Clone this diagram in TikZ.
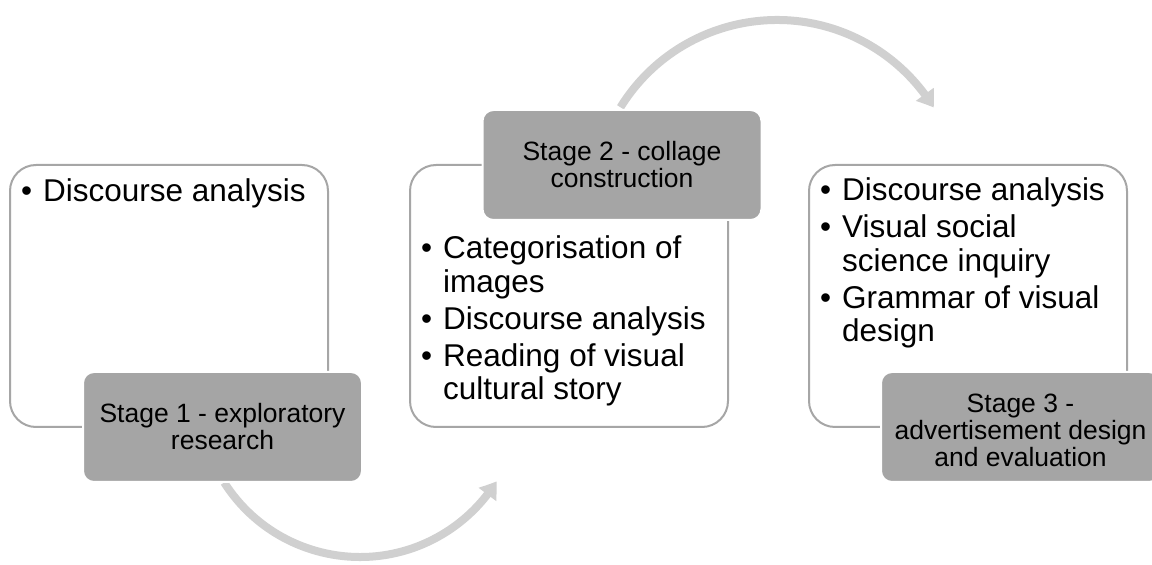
\documentclass[tikz,border=0pt]{standalone}
\usepackage{fontspec}
\setmainfont{Liberation Sans}
\usetikzlibrary{arrows.meta,bending}
\definecolor{boxline}{HTML}{A6A6A6}
\definecolor{stagefill}{HTML}{A5A5A5}
\definecolor{arrowgray}{HTML}{D0D0D0}
\newcommand{\bul}{\makebox[22pt][l]{\textbullet}}
\begin{document}
\begin{tikzpicture}[x=1pt,y=1pt,
  panel/.style={draw=boxline, line width=2pt, fill=white, rounded corners=26pt,
    minimum width=318pt, minimum height=262pt, inner sep=0pt},
  stagebox/.style={draw=white, line width=2pt, fill=stagefill, rounded corners=11pt,
    minimum width=279pt, minimum height=110pt, inner sep=0pt, align=center,
    font=\fontsize{26.5}{27}\selectfont},
  bullets/.style={anchor=base west, inner sep=0pt, font=\fontsize{31.5}{33.5}\selectfont},
  flow/.style={draw=arrowgray, line width=8pt, -{Triangle[width=21pt,length=16pt,bend]}}
]
\useasboundingbox (0,0) rectangle (1152,565);
\clip (0,0) rectangle (1152,565);
% arrows
\coordinate (arcAc) at (360,169);
\coordinate (arcAs) at ([shift={(212.5:161)}]arcAc);
\coordinate (arcBc) at (777,361);
\coordinate (arcBs) at ([shift={(148.3:184)}]arcBc);
\draw[flow] (arcAs) arc[start angle=212.5, end angle=328, radius=161pt];
\draw[flow] (arcBs) arc[start angle=148.3, end angle=31.6, radius=184pt];
% panels
\node[panel] (p1) at (169,269) {};
\node[panel] (p2) at (569,269) {};
\node[panel] (p3) at (968,269) {};
% stage boxes
\node[stagebox] (s1) at (222.5,138) {Stage 1 - exploratory\\research};
\node[stagebox] (s2) at (622,400) {Stage 2 - collage\\construction};
\node[stagebox, text height=80pt] (s3) at (1020.5,138) {Stage 3 -\\advertisement design\\and evaluation};
% bullet texts
\node[bullets] (t1) at (21,363) {\begin{tabular}[t]{@{}l@{}l@{}}
\bul & Discourse analysis
\end{tabular}};
\node[bullets] (t2) at (421,306) {\begin{tabular}[t]{@{}l@{}l@{}}
\bul & Categorisation of\\
 & images\\[3.5pt]
\bul & Discourse analysis\\[3.5pt]
\bul & Reading of visual\\
 & cultural story
\end{tabular}};
\node[bullets] (t3) at (820,364) {\begin{tabular}[t]{@{}l@{}l@{}}
\bul & Discourse analysis\\[3.5pt]
\bul & Visual social\\
 & science inquiry\\[3.5pt]
\bul & Grammar of visual\\
 & design
\end{tabular}};
\end{tikzpicture}
\end{document}
